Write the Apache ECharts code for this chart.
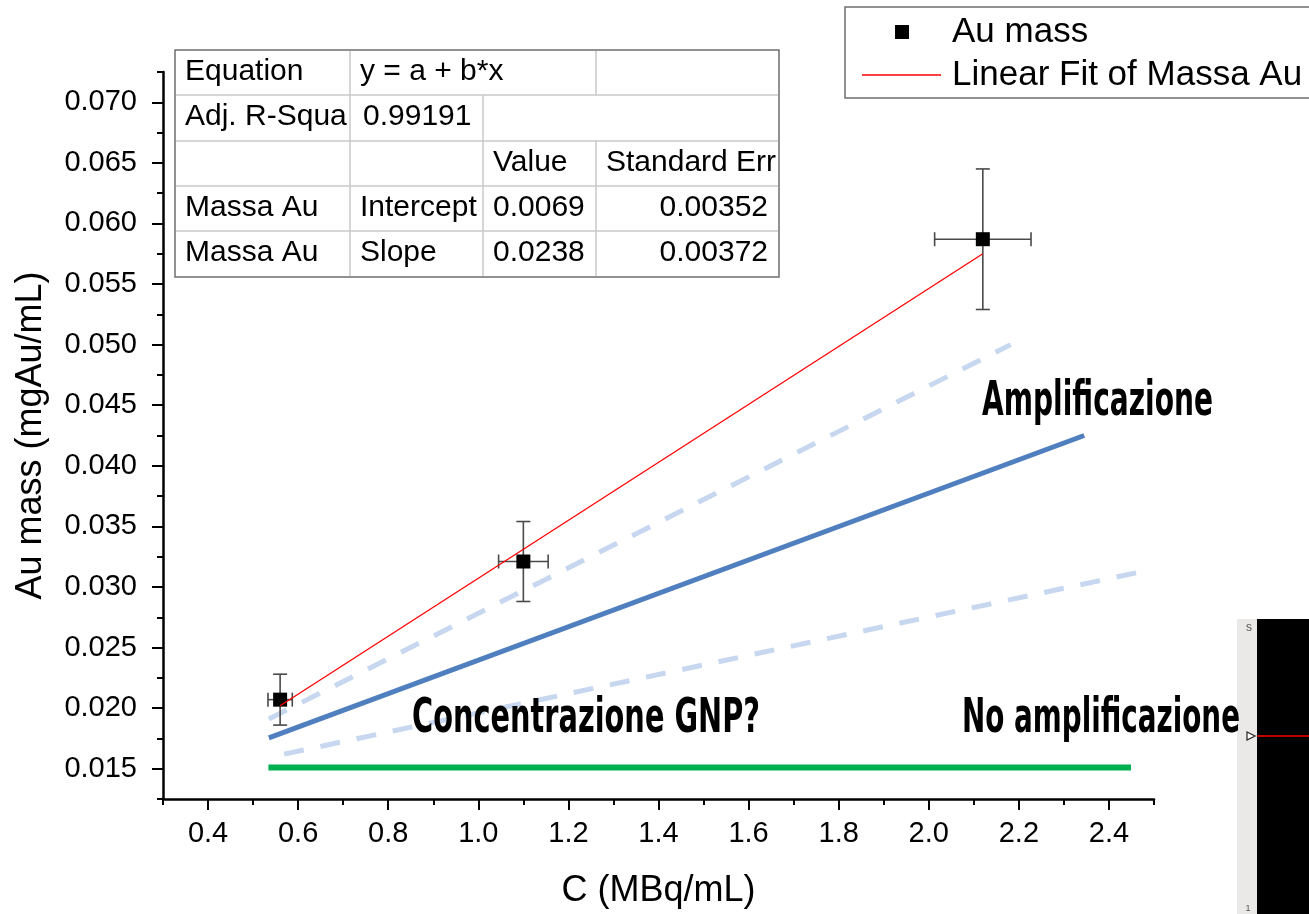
<!DOCTYPE html>
<html>
<head>
<meta charset="utf-8">
<script src="https://cdn.jsdelivr.net/npm/echarts@6/dist/echarts.min.js"></script>
<style>
html, body { margin: 0; padding: 0; background: #fff; }
#chart { width: 1309px; height: 914px; }
</style>
</head>
<body>
<div id="chart"></div>
<script>
// misure: C (MBq/mL) e massa Au (mgAu/mL) con errori
var concX = [0.56, 1.10, 2.12];
var massY = [0.0207, 0.0321, 0.0587];
var errX = [0.027, 0.055, 0.107];
var errY = [0.0021, 0.0033, 0.0058];

// retta di fit (estremi)
var fitLine = [[0.56, 0.0202], [2.12, 0.0575]];

// linee di schema disegnate a mano
var midLine = [[0.535, 0.01755], [2.345, 0.0425]];
var upperLine = [[0.535, 0.0191], [2.182, 0.0500]];
var lowerLine = [[0.569, 0.0162], [2.478, 0.0313]];
var flatLine = [[0.534, 0.0151], [2.449, 0.0151]];

// posizioni dei tick (maggiori ogni due)
var xTickVals = ['0.3','0.4','0.5','0.6','0.7','0.8','0.9','1.0','1.1','1.2','1.3','1.4','1.5','1.6','1.7','1.8','1.9','2.0','2.1','2.2','2.3','2.4','2.5'];
var yTickVals = ['0.0125','0.0150','0.0175','0.0200','0.0225','0.0250','0.0275','0.0300','0.0325','0.0350','0.0375','0.0400','0.0425','0.0450','0.0475','0.0500','0.0525','0.0550','0.0575','0.0600','0.0625','0.0650','0.0675','0.0700','0.0725'];

// tabella del fit
var tableRows = [
  ['Equation', 'y = a + b*x', '', ''],
  ['Adj. R-Squa', '0.99191', '', ''],
  ['', '', 'Value', 'Standard Err'],
  ['Massa Au', 'Intercept', '0.0069', '0.00352'],
  ['Massa Au', 'Slope', '0.0238', '0.00372']
];

var legendNames = ['Au mass', 'Linear Fit of Massa Au'];

var FONT = '"Liberation Sans", Arial, sans-serif';
var BIG = 'bold 48px "DejaVu Sans", sans-serif';

var chart = echarts.init(document.getElementById('chart'));

var points = concX.map(function (x, i) { return [x, massY[i]]; });
var errData = concX.map(function (x, i) { return [x, massY[i], errX[i], errY[i]]; });

function renderErr(params, api) {
  var x = api.value(0), y = api.value(1), ex = api.value(2), ey = api.value(3);
  var top = api.coord([x, y + ey]);
  var bot = api.coord([x, y - ey]);
  var lft = api.coord([x - ex, y]);
  var rgt = api.coord([x + ex, y]);
  var cap = 7;
  var st = { stroke: '#4a4a4a', lineWidth: 1.6 };
  return {
    type: 'group',
    children: [
      { type: 'line', shape: { x1: top[0], y1: top[1], x2: bot[0], y2: bot[1] }, style: st },
      { type: 'line', shape: { x1: top[0] - cap, y1: top[1], x2: top[0] + cap, y2: top[1] }, style: st },
      { type: 'line', shape: { x1: bot[0] - cap, y1: bot[1], x2: bot[0] + cap, y2: bot[1] }, style: st },
      { type: 'line', shape: { x1: lft[0], y1: lft[1], x2: rgt[0], y2: rgt[1] }, style: st },
      { type: 'line', shape: { x1: lft[0], y1: lft[1] - cap, x2: lft[0], y2: lft[1] + cap }, style: st },
      { type: 'line', shape: { x1: rgt[0], y1: rgt[1] - cap, x2: rgt[0], y2: rgt[1] + cap }, style: st }
    ]
  };
}

function txt(x, y, s, font, align, color) {
  return {
    type: 'text', z: 100,
    style: { x: x, y: y, text: s, font: font, fill: color || '#000',
      align: align || 'left', textAlign: align || 'left',
      verticalAlign: 'middle', textVerticalAlign: 'middle' }
  };
}
function seg(x1, y1, x2, y2, color, w) {
  return { type: 'line', z: 99, shape: { x1: x1, y1: y1, x2: x2, y2: y2 },
    style: { stroke: color, lineWidth: w } };
}

// scritta in grassetto stretto: si schiaccia in larghezza fino a w px
var measureCtx = document.createElement('canvas').getContext('2d');
function narrow(x, y, s, w) {
  measureCtx.font = BIG;
  var sx = w / measureCtx.measureText(s).width;
  var t = txt(0, 0, s, BIG);
  t.x = x; t.y = y; t.scaleX = sx;
  return t;
}

// tabella
var tL = 175, tR = 779, tT = 50, tB = 277;
var rowY = [50, 95, 141, 186, 231, 277];
var colX = [175, 350, 483, 596, 779];
var graphics = [];
graphics.push({ type: 'rect', z: 98, shape: { x: tL, y: tT, width: tR - tL, height: tB - tT },
  style: { fill: '#fff', stroke: '#6e6e6e', lineWidth: 1.5 } });
for (var r = 1; r < 5; r++) graphics.push(seg(tL + 1, rowY[r], tR - 1, rowY[r], '#c8c8c8', 1.5));
graphics.push(seg(350, tT + 1, 350, tB - 1, '#c8c8c8', 1.5));
graphics.push(seg(483, rowY[1], 483, tB - 1, '#c8c8c8', 1.5));
graphics.push(seg(596, tT + 1, 596, rowY[1], '#c8c8c8', 1.5));
graphics.push(seg(596, rowY[2], 596, tB - 1, '#c8c8c8', 1.5));
tableRows.forEach(function (row, r) {
  var cy = (rowY[r] + rowY[r + 1]) / 2 - 1;
  row.forEach(function (cell, c) {
    if (!cell) return;
    if (c === 3 && r >= 3) graphics.push(txt(768, cy, cell, '30px ' + FONT, 'right'));
    else graphics.push(txt(colX[c] + (c === 1 && r === 1 ? 13 : 10), cy, cell, '30px ' + FONT));
  });
});

// legenda
graphics.push({ type: 'rect', z: 98, shape: { x: 845, y: 7, width: 480, height: 91 },
  style: { fill: '#fff', stroke: '#6e6e6e', lineWidth: 1.5 } });
graphics.push({ type: 'rect', z: 100, shape: { x: 895, y: 25, width: 14, height: 14 }, style: { fill: '#000' } });
graphics.push(seg(862, 75, 941, 75, '#ff0000', 1.5));
graphics.push(txt(952, 32, legendNames[0], '35px ' + FONT));
graphics.push(txt(952, 75, legendNames[1], '35px ' + FONT));

// scritte
graphics.push(narrow(982, 403, 'Amplificazione', 231));
graphics.push(narrow(412, 720, 'Concentrazione GNP?', 348));
graphics.push(narrow(962, 720, 'No amplificazione', 278));

// ritaglio a destra
graphics.push({ type: 'rect', z: 97, shape: { x: 1237, y: 619, width: 20, height: 295 }, style: { fill: '#ebe9e8' } });
graphics.push({ type: 'rect', z: 97, shape: { x: 1257, y: 619, width: 52, height: 295 }, style: { fill: '#000' } });
graphics.push(seg(1257, 736, 1309, 736, '#c00000', 2));
graphics.push({ type: 'polygon', z: 99, shape: { points: [[1247, 732], [1255, 736], [1247, 740]] },
  style: { fill: '#fff', stroke: '#222', lineWidth: 1.2 } });
graphics.push(txt(1249, 628, 's', '12px ' + FONT, 'center', '#555'));
graphics.push(txt(1248, 909, '1', '9px ' + FONT, 'center', '#555'));

var option = {
  backgroundColor: '#fff',
  animation: false,
  grid: { left: 163, right: 155, top: 72, bottom: 112, containLabel: false },
  xAxis: [{
    type: 'value', min: 0.3, max: 2.5, interval: 0.1,
    name: 'C (MBq/mL)', nameLocation: 'middle', nameGap: 74,
    nameTextStyle: { fontFamily: FONT, fontSize: 36, color: '#000' },
    axisLine: { show: true, onZero: false, lineStyle: { color: '#000', width: 2.5 } },
    axisTick: { show: true, length: 6, lineStyle: { color: '#000', width: 2 } },
    axisLabel: { fontFamily: FONT, fontSize: 29, color: '#000', margin: 20,
      formatter: function (v) { var k = Math.round(v * 10); return k % 2 === 0 ? (k / 10).toFixed(1) : ''; } },
    splitLine: { show: false }
  }, {
    type: 'category', data: xTickVals, boundaryGap: false, position: 'bottom',
    axisLine: { show: false },
    axisTick: { show: true, length: 11, interval: function (i) { return i % 2 === 1; },
      lineStyle: { color: '#000', width: 2 } },
    axisLabel: { show: false }, splitLine: { show: false }
  }],
  yAxis: [{
    type: 'value', min: 0.0125, max: 0.0725, interval: 0.0025,
    name: 'Au mass (mgAu/mL)', nameLocation: 'middle', nameGap: 114,
    nameTextStyle: { fontFamily: FONT, fontSize: 36, color: '#000' },
    axisLine: { show: true, onZero: false, lineStyle: { color: '#000', width: 2.5 } },
    axisTick: { show: true, length: 6, lineStyle: { color: '#000', width: 2 } },
    axisLabel: { fontFamily: FONT, fontSize: 29, color: '#000', margin: 26,
      formatter: function (v) { var k = Math.round(v / 0.0025); return k % 2 === 0 ? (k * 0.0025).toFixed(3) : ''; } },
    splitLine: { show: false }
  }, {
    type: 'category', data: yTickVals, boundaryGap: false, position: 'left',
    axisLine: { show: false },
    axisTick: { show: true, length: 11, interval: function (i) { return i % 2 === 1; },
      lineStyle: { color: '#000', width: 2 } },
    axisLabel: { show: false }, splitLine: { show: false }
  }],
  series: [
    { type: 'line', data: flatLine, symbol: 'none', lineStyle: { color: '#00b050', width: 6 }, z: 2 },
    { type: 'line', data: upperLine, symbol: 'none', lineStyle: { color: '#c6d7ef', width: 5, type: [20, 17] }, z: 2 },
    { type: 'line', data: lowerLine, symbol: 'none', lineStyle: { color: '#c6d7ef', width: 5, type: [20, 17] }, z: 2 },
    { type: 'line', data: midLine, symbol: 'none', lineStyle: { color: '#4f7fbe', width: 5 }, z: 2 },
    { type: 'custom', data: errData, renderItem: renderErr, z: 3 },
    { type: 'scatter', name: legendNames[0], data: points, symbol: 'rect', symbolSize: 14,
      itemStyle: { color: '#000', opacity: 1 }, z: 4 },
    { type: 'line', name: legendNames[1], data: fitLine, symbol: 'none',
      lineStyle: { color: '#ff0000', width: 1.3 }, z: 5 }
  ],
  graphic: graphics
};

chart.setOption(option);
</script>
</body>
</html>
